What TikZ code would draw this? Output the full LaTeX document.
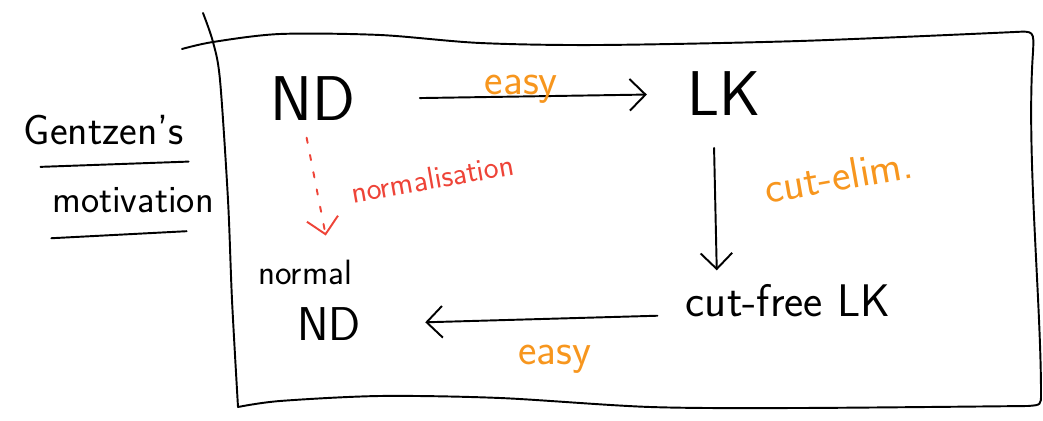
\documentclass[tikz,border=0pt]{standalone}
\usepackage{fontspec}
\usetikzlibrary{positioning, arrows.meta}

\definecolor{easyorange}{RGB}{247,150,30}
\definecolor{normred}{RGB}{238,68,56}
\newcommand{\fsz}[1]{\fontsize{#1}{#1}\selectfont}

\begin{document}
\begin{tikzpicture}[x=0.02cm, y=-0.02cm, line width=1.1pt, line cap=round,
    >={Straight Barb[length=9pt, width=18pt]},
    sys/.style={font=\sffamily\fsz{36}, inner sep=2pt},
    sysmid/.style={font=\sffamily\fsz{26}, inner sep=2pt},
    word/.style={font=\sffamily\fsz{#1}, inner sep=2pt},
    easylbl/.style={text=easyorange, font=\sffamily\fsz{25}},
    normlbl/.style={text=normred, font=\sffamily\fsz{18}}]
	\useasboundingbox (0,0) rectangle (1043,421);

	% frame
	\draw plot[smooth, tension=0.5] coordinates {(182,49) (213,42) (280,34) (380,35) (480,43) (600,45) (800,41) (1015,32)}
		.. controls (1034,31) .. (1033,52)
		.. controls (1026,150) and (1041,300) .. (1041,394)
		.. controls (1041,405) .. (1028,406)
		-- plot[smooth, tension=0.5] coordinates {(1028,406) (800,408) (650,407) (500,398) (380,396) (280,401) (238,407)};
	\draw plot[smooth, tension=0.5] coordinates {(203,13) (213,42) (220,80) (228,200) (232,300) (238,407)};

	% title
	\node [word=24] (Gz) at (104,130) {Gentzen's};
	\node [word=22] (Mot) at (133,200) {motivation};
	\draw ([xshift=12pt, yshift=-10pt]Gz.south west) -- ([yshift=-7pt]Gz.south east);
	\draw ([xshift=2pt, yshift=-12pt]Mot.south west) -- ([xshift=-18pt, yshift=-8pt]Mot.south east);

	\node [sys] (ND) at (313,99) {ND};
	\node [sys] (LK) at (724,94) {LK};
	\node [sysmid] (CF) at (788,301) {cut-free LK};
	\node [word=27] (NN) at (329,324) {ND};
	\node [word=20] (normal) at (305,272) {normal};

	\path[->] (ND.east) edge [shorten <=1.2cm, shorten >=0.72cm] node [above, easylbl, yshift=-8pt] {easy} (LK.west);
	\path[->] ([xshift=-6pt]LK.south) edge [shorten <=0.55cm, shorten >=0.2cm] node [right=0.85cm, yshift=6pt, rotate=10, easylbl] {cut-elim.} ([xshift=-4pt]LK.south |- CF.north);
	\path[->, normred, dash pattern=on 3pt off 7pt] ([xshift=-5pt]ND.south) edge [shorten <=0.25cm, shorten >=0.4cm] node [right=0.55cm, yshift=-2pt, rotate=10, normlbl] {normalisation} ([xshift=14pt]normal.north);
	\path[->] ([yshift=-8pt]CF.west) edge [shorten <=0.48cm, shorten >=1.2cm] node [below, pos=0.4, yshift=-11pt, easylbl] {easy} (NN.east);
\end{tikzpicture}
\end{document}
